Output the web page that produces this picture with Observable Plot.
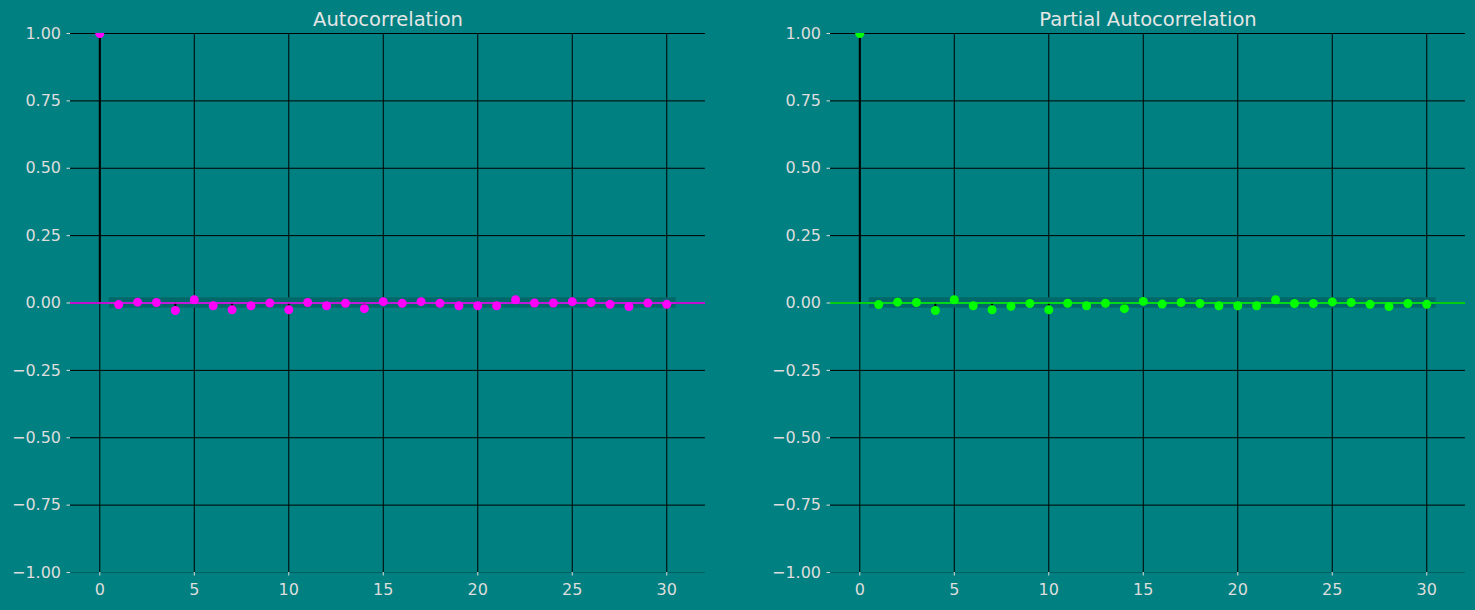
<!DOCTYPE html>
<html>
<head>
<meta charset="utf-8">
<script src="https://cdn.jsdelivr.net/npm/d3@7"></script>
<script src="https://cdn.jsdelivr.net/npm/@observablehq/plot@0.6"></script>
<style>
  html, body { margin: 0; padding: 0; background: #008080; }
  #charts { display: flex; width: 1475px; height: 610px; }
  #charts svg text { font-family: "DejaVu Sans", sans-serif; }
</style>
</head>
<body>
<div id="charts"></div>
<script>
// lags shown on both panels
const lags = [0, 1, 2, 3, 4, 5, 6, 7, 8, 9, 10, 11, 12, 13, 14, 15, 16, 17, 18, 19, 20, 21, 22, 23, 24, 25, 26, 27, 28, 29, 30];

const acfValues = [1, -0.006, 0.003, 0.002, -0.028, 0.012, -0.010, -0.025, -0.010, 0.000, -0.025, 0.002, -0.010, -0.001, -0.021, 0.005,
  -0.001, 0.005, -0.001, -0.010, -0.010, -0.010, 0.012, 0.000, 0.000, 0.005, 0.002, -0.005, -0.013, 0.000, -0.005];
const pacfValues = [1, -0.006, 0.003, 0.002, -0.028, 0.012, -0.010, -0.025, -0.012, -0.002, -0.025, -0.001, -0.010, -0.001, -0.021, 0.006,
  -0.004, 0.002, -0.002, -0.010, -0.010, -0.010, 0.012, -0.002, -0.002, 0.004, 0.002, -0.005, -0.013, -0.002, -0.005];

// confidence band (roughly constant)
const bandLags = [0.5, 30.5];
const bandHalf = 0.0195;

const xTicks = [0, 5, 10, 15, 20, 25, 30];
const yTicks = [-1, -0.75, -0.5, -0.25, 0, 0.25, 0.5, 0.75, 1];

function makePanel(title, values, color, width, marginLeft, marginRight) {
  const rows = lags.map((lag, i) => ({lag, value: values[i]}));
  return Plot.plot({
    width,
    height: 610,
    marginTop: 33,
    marginBottom: 38,
    marginLeft,
    marginRight,
    style: {
      background: "transparent",
      color: "#dddddd",
      fontFamily: "DejaVu Sans, sans-serif",
      fontSize: "16px"
    },
    x: {domain: [-1.55, 32.05]},
    y: {domain: [-1, 1]},
    marks: [
      // grid
      Plot.ruleX(xTicks, {stroke: "black", strokeWidth: 1}),
      Plot.ruleY(yTicks.filter(v => v > -1), {stroke: "black", strokeWidth: 1}),
      Plot.ruleY([-1], {stroke: "#005f5f", strokeWidth: 1}),
      // confidence band
      Plot.areaY(bandLags, {x: d => d, y1: () => -bandHalf, y2: () => bandHalf, fill: "#006868"}),
      // stems
      Plot.ruleX(rows, {x: "lag", y1: () => 0, y2: "value", stroke: "black", strokeWidth: 2}),
      Plot.ruleY([0], {stroke: color, strokeWidth: 1.6}),
      Plot.dot(rows, {x: "lag", y: "value", r: 4.5, fill: color, clip: true}),
      Plot.axisX({ticks: xTicks, tickSize: 3.5, tickPadding: 8, label: null, fontSize: 16}),
      Plot.axisY({ticks: yTicks, tickFormat: d3.format(".2f"), tickSize: 3.5, tickPadding: 6, label: null, fontSize: 16}),
      Plot.text([title], {frameAnchor: "top", dy: -21, fontSize: 19.5, fill: "#e6e6e6"})
    ]
  });
}

const charts = document.getElementById("charts");
charts.appendChild(makePanel("Autocorrelation", acfValues, "#ff00ff", 760, 70, 55));
charts.appendChild(makePanel("Partial Autocorrelation", pacfValues, "#00ff00", 715, 70, 10));
</script>
</body>
</html>
